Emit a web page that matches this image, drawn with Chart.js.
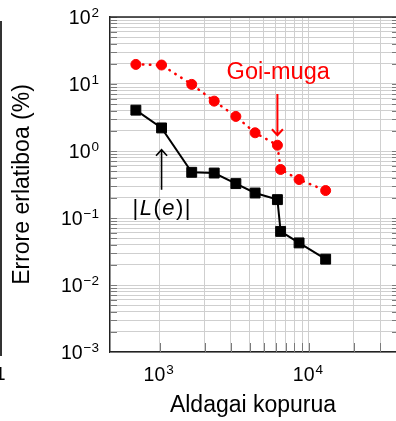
<!DOCTYPE html>
<html lang="eu">
<head>
  <meta charset="UTF-8">
  <title>Errore erlatiboa</title>
  <style>
    html, body {
      margin: 0;
      padding: 0;
      background: #fff;
    }
    #chart-container {
      position: relative;
      width: 396px;
      height: 421px;
    }
  </style>
  <script src="https://cdn.jsdelivr.net/npm/chart.js"></script>
</head>
<body>
  <div id="chart-container">
    <canvas id="errChart"></canvas>
  </div>

  <script>
    // aldagai kopurua (x) eta errore erlatiboak (%)
    const kopurua = [693, 1030, 1640, 2320, 3240, 4360, 6150, 6460, 8590, 12940];
    const erroreLe = [4.07, 2.21, 0.481, 0.469, 0.326, 0.236, 0.188, 0.0631, 0.0425, 0.0243];
    const erroreGoiMuga = [19.6, 19.2, 9.87, 5.55, 3.28, 1.87, 1.22, 0.530, 0.375, 0.257];

    const xGrid = [1000, 2000, 3000, 4000, 5000, 6000, 7000, 8000, 9000, 10000, 20000, 30000];
    const xLabeled = [1000, 10000];
    const yDecades = [0.001, 0.01, 0.1, 1, 10, 100];
    const mantissas = [1, 2, 3, 4, 5, 6, 7, 8, 9];

    const yGrid = [];
    yDecades.forEach(d => {
      mantissas.forEach(m => {
        const v = Number((m * d).toPrecision(3));
        if (v <= 100) yGrid.push(v);
      });
    });

    const FONT = "'Liberation Sans', Arial, Helvetica, sans-serif";
    const BASE_FONT = '19.5px ' + FONT;
    const EXP_FONT = '13.5px ' + FONT;

    function isDecade(value, list) {
      return list.some(d => Math.abs(value / d - 1) < 1e-6);
    }

    function exponentText(value) {
      const e = Math.round(Math.log10(value));
      return e < 0 ? '\u2212' + Math.abs(e) : String(e);
    }

    // 10^n etiketa: oinarria eta berretzailea
    function drawPow(ctx, value, x, baseline, align) {
      const exp = exponentText(value);
      ctx.font = BASE_FONT;
      const wb = ctx.measureText('10').width;
      ctx.font = EXP_FONT;
      const we = ctx.measureText(exp).width;
      const total = wb + 1 + we;
      let left = align === 'right' ? x - total : x - total / 2;
      ctx.textAlign = 'left';
      ctx.textBaseline = 'alphabetic';
      ctx.font = BASE_FONT;
      ctx.fillText('10', left, baseline);
      ctx.font = EXP_FONT;
      ctx.fillText(exp, left + wb + 1, baseline - 6.5);
    }

    function arrow(ctx, x, yFrom, yTip, color, width) {
      const dir = Math.sign(yTip - yFrom);
      ctx.strokeStyle = color;
      ctx.lineWidth = width;
      ctx.beginPath();
      ctx.moveTo(x, yFrom);
      ctx.lineTo(x, yTip);
      ctx.moveTo(x - 5.5, yTip - dir * 6);
      ctx.lineTo(x, yTip);
      ctx.lineTo(x + 5.5, yTip - dir * 6);
      ctx.stroke();
    }

    const frame = {
      id: 'frame',
      beforeDatasetsDraw(chart) {
        const { ctx, chartArea: a, scales: { x, y } } = chart;
        ctx.save();
        // barruko tick-ak
        ctx.strokeStyle = '#7a7a7a';
        ctx.lineWidth = 1;
        ctx.beginPath();
        yGrid.forEach(v => {
          const py = Math.round(y.getPixelForValue(v)) + 0.5;
          ctx.moveTo(a.left, py);
          ctx.lineTo(a.left + 7, py);
          ctx.moveTo(a.right - 4, py);
          ctx.lineTo(a.right, py);
        });
        xGrid.forEach(v => {
          const px = Math.round(x.getPixelForValue(v)) + 0.5;
          ctx.moveTo(px, a.bottom);
          ctx.lineTo(px, a.bottom - 9);
        });
        ctx.stroke();
        // goiko ertza
        ctx.strokeStyle = '#222';
        ctx.lineWidth = 1.5;
        ctx.beginPath();
        ctx.moveTo(a.left, a.top);
        ctx.lineTo(a.right, a.top);
        ctx.stroke();
        // ardatzetako etiketak
        ctx.fillStyle = '#000';
        yDecades.forEach(v => {
          drawPow(ctx, v, a.left - 11, y.getPixelForValue(v) + 6.8, 'right');
        });
        xLabeled.forEach(v => {
          drawPow(ctx, v, x.getPixelForValue(v) - 1, a.bottom + 28.5, 'center');
        });
        // ondoko irudiaren ertza
        ctx.strokeStyle = '#333';
        ctx.lineWidth = 2;
        ctx.beginPath();
        ctx.moveTo(1, 21);
        ctx.lineTo(1, 356);
        ctx.stroke();
        ctx.font = '19px ' + FONT;
        ctx.textAlign = 'left';
        ctx.fillText('1', -5, 380);
        ctx.restore();
      },
      afterDatasetsDraw(chart) {
        const { ctx, scales: { x, y } } = chart;
        ctx.save();

        // Goi-muga
        const gx = x.getPixelForValue(6150);
        arrow(ctx, gx, y.getPixelForValue(7.1), y.getPixelForValue(1.72), '#ff0000', 2);
        ctx.fillStyle = '#ff0000';
        ctx.font = '23.5px ' + FONT;
        ctx.textAlign = 'center';
        ctx.textBaseline = 'alphabetic';
        ctx.fillText('Goi-muga', x.getPixelForValue(6225), y.getPixelForValue(11.8));

        // |L(e)|
        const lx = x.getPixelForValue(kopurua[1]);
        arrow(ctx, lx, y.getPixelForValue(0.264), y.getPixelForValue(1.045), '#000', 1.6);
        const parts = [
          ['|', false], ['L', true], ['(', false], ['e', true], [')', false], ['|', false]
        ];
        const gap = 1.5;
        let total = 0;
        parts.forEach(([t, it]) => {
          ctx.font = (it ? 'italic ' : '') + '22px ' + FONT;
          total += ctx.measureText(t).width + gap;
        });
        total -= gap;
        let cx = lx - total / 2;
        const base = y.getPixelForValue(0.11);
        ctx.fillStyle = '#000';
        ctx.textAlign = 'left';
        parts.forEach(([t, it]) => {
          ctx.font = (it ? 'italic ' : '') + '22px ' + FONT;
          ctx.fillText(t, cx, base);
          cx += ctx.measureText(t).width + gap;
        });
        ctx.restore();
      }
    };

    const ctx = document.getElementById('errChart').getContext('2d');
    new Chart(ctx, {
      type: 'line',
      data: {
        datasets: [
          {
            label: 'Goi-muga',
            data: kopurua.map((k, i) => ({ x: k, y: erroreGoiMuga[i] })),
            borderColor: '#ff0000',
            backgroundColor: '#ff0000',
            borderWidth: 2.5,
            borderDash: [0.5, 6.5],
            borderCapStyle: 'round',
            pointStyle: 'circle',
            pointRadius: 5,
            pointBorderWidth: 1,
            tension: 0
          },
          {
            label: '|L(e)|',
            data: kopurua.map((k, i) => ({ x: k, y: erroreLe[i] })),
            borderColor: '#000',
            backgroundColor: '#000',
            borderWidth: 2,
            pointStyle: 'rect',
            pointRadius: 7,
            pointBorderWidth: 1,
            tension: 0
          }
        ]
      },
      options: {
        responsive: true,
        maintainAspectRatio: false,
        animation: false,
        events: [],
        layout: {
          autoPadding: false,
          padding: { top: 17, right: 0, left: 0, bottom: 0 }
        },
        plugins: {
          legend: { display: false },
          tooltip: { enabled: false }
        },
        scales: {
          x: {
            type: 'logarithmic',
            position: 'bottom',
            min: 465,
            max: 38300,
            afterBuildTicks: scale => { scale.ticks = xGrid.map(v => ({ value: v })); },
            afterFit: scale => { scale.height = 69; },
            grid: { color: '#cfcfcf', lineWidth: 1, drawTicks: false },
            border: { display: true, color: '#222', width: 1.5 },
            ticks: { display: false, autoSkip: false },
            title: {
              display: true,
              text: 'Aldagai kopurua',
              color: '#000',
              font: { family: FONT, size: 23 },
              padding: { top: 0, bottom: 2 }
            }
          },
          y: {
            type: 'logarithmic',
            position: 'left',
            min: 0.001,
            max: 100,
            afterBuildTicks: scale => { scale.ticks = yGrid.map(v => ({ value: v })); },
            afterFit: scale => { scale.width = 110; },
            grid: { color: '#cfcfcf', lineWidth: 1, drawTicks: false },
            border: { display: true, color: '#222', width: 1.5 },
            ticks: { display: false, autoSkip: false },
            title: {
              display: true,
              text: 'Errore erlatiboa (%)',
              color: '#000',
              font: { family: FONT, size: 23 },
              padding: { top: 9, bottom: 0 }
            }
          }
        }
      },
      plugins: [frame]
    });
  </script>
</body>
</html>
